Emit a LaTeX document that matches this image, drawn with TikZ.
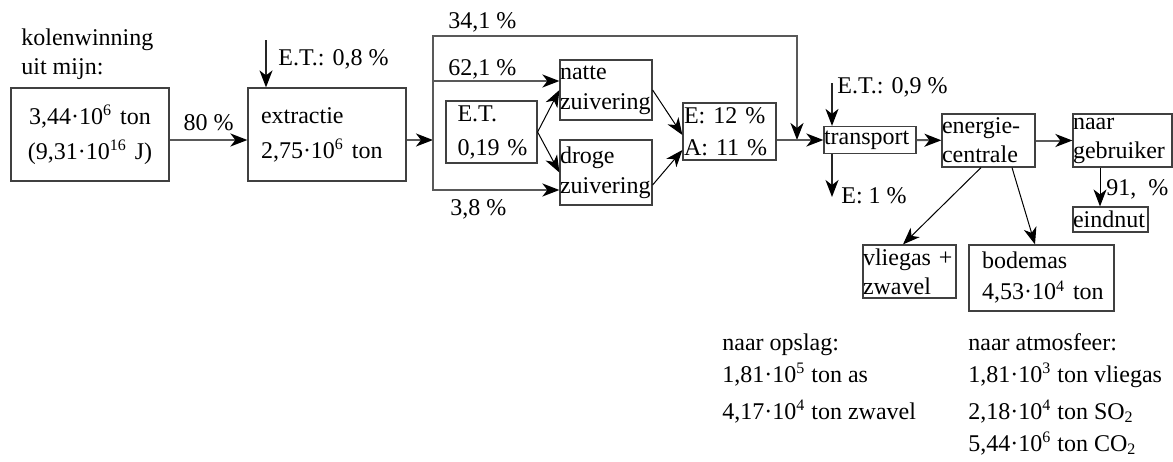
\documentclass[tikz,border=0pt]{standalone}
\usepackage{fontspec}
\setmainfont{Liberation Serif}
\usepackage{tikz}
\usetikzlibrary{positioning, calc, arrows.meta}
\tikzstyle{blok} = [rectangle, draw=black!75, line width=0.6pt, inner sep=0pt, align=left, font=\fontsize{12}{15}\selectfont]
\tikzstyle{tekst} = [inner sep=0pt, align=left, font=\fontsize{12}{15}\selectfont]
\tikzstyle{pijl} = [draw=black!65, line width=1pt, -{Stealth[length=8.5pt,width=6.5pt,inset=2.5pt,color=black]}]
\tikzstyle{zijpijl} = [draw=black!85, line width=0.8pt, -{Stealth[length=8.5pt,width=6.5pt,inset=2.5pt,color=black]}]
\tikzstyle{dun} = [draw=black, line width=0.5pt, -{Stealth[length=8.5pt,width=6.5pt,inset=2.5pt]}]

\begin{document}
\begin{tikzpicture}[x=0.5pt,y=-0.5pt]
		\useasboundingbox (0,0) rectangle (1173,461);
		\node (kop) [tekst, anchor=north west, font=\fontsize{12}{14.5}\selectfont] at (21,28) {kolenwinning\\uit mijn:};
		\node (mijn) [blok, text width=79pt, minimum height=46.5pt, align=center, font=\fontsize{12}{17.5}\selectfont] at (90,134.5) {3,44·10\textsuperscript{6}~ton\\(9,31·10\textsuperscript{16}~J)};
		\node (extr) [blok, text width=66pt, inner xsep=6.5pt, minimum height=46.5pt, font=\fontsize{12}{17.5}\selectfont] at (327,134.5) {extractie\\2,75·10\textsuperscript{6}~ton};
		\node (et) [blok, text width=34pt, inner xsep=5.75pt, minimum height=31pt, font=\fontsize{12}{17}\selectfont] at (491.5,132) {E.T.\\0,19~\%};
		\node (natte) [blok, text width=46pt, minimum height=30pt] at (606,90) {natte\\zuivering};
		\node (droge) [blok, text width=46pt, minimum height=32.5pt] at (606,172.5) {droge\\zuivering};
		\node (ea) [blok, text width=45.5pt, inner xsep=0.5pt, minimum height=28.5pt, font=\fontsize{12}{16}\selectfont] at (729.5,131.5) {E:~12~\%\\A:~11~\%};
		\node (transport) [blok, text width=46pt, minimum height=13.5pt] at (870,140) {transport};
		\node (energie) [blok, text width=46.5pt, minimum height=26.5pt, font=\fontsize{12}{14.5}\selectfont] at (988.5,140.5) {energie-\\centrale};
		\node (gebruiker) [blok, text width=49.5pt, minimum height=26.5pt, font=\fontsize{12}{14.5}\selectfont] at (1122.5,140.5) {naar\\gebruiker};
		\node (eindnut) [blok, text width=37.5pt, minimum height=12.5pt] at (1110.5,219.5) {eindnut};
		\node (vliegas) [blok, text width=46.5pt, minimum height=26.5pt, font=\fontsize{12}{14.5}\selectfont] at (909.5,271.5) {vliegas~+\\zwavel};
		\node (bodemas) [blok, text width=59.5pt, inner xsep=6.5pt, minimum height=33pt, font=\fontsize{12}{15.5}\selectfont] at (1041.5,278) {bodemas\\4,53·10\textsuperscript{4}~ton};
		
		\coordinate (split) at (433,140);
		\coordinate (join) at (797,140);
		\coordinate (hoog) at (797,36);
		\coordinate (et1) at (266,40);
		\coordinate (et2) at (832,83);
		\coordinate (e1) at (832,197);
		
		\draw [pijl](mijn.east |- split) -- node[tekst, above=4pt] {80 \%} (extr.west |- split);
		\draw [zijpijl](et1) -- (et1 |- extr.north);
		\node (et1tekst) [tekst, anchor=base west] at (278,65) {E.T.: 0,8 \%};
		\draw [pijl](extr.east |- split) -- (split);
		\draw [pijl](split) |- (hoog) -- (join);
		\draw [pijl](split) |- ([yshift=4.5pt]natte.west);
		\draw [pijl](split) |- ([yshift=-8.75pt]droge.west);
		\node (l341) [tekst, anchor=base west] at (448,28) {34,1 \%};
		\node (l621) [tekst, anchor=base west] at (448,75) {62,1 \%};
		\node (l38) [tekst, anchor=base west] at (450,215) {3,8 \%};
		\draw [dun](et.east) -- (natte.west);
		\draw [dun](et.east) -- (droge.west);
		\draw [dun](natte.east) -- ([yshift=-1.75pt]ea.west);
		\draw [dun]([yshift=-6.25pt]droge.east) -- ([yshift=-9.25pt]ea.west);
		\draw [pijl](ea.east |- join) -- (transport.west);
		\draw [zijpijl](et2) -- (et2 |- transport.north);
		\node (et2tekst) [tekst, anchor=base west] at (837,93) {E.T.: 0,9 \%};
		\draw [zijpijl](e1 |- transport.south) -- (e1);
		\node (e1tekst) [tekst, anchor=base west] at (841,203) {E: 1 \%};
		\draw [pijl](transport) -- (energie);
		\draw [pijl](energie) -- (gebruiker);
		\draw [dun]([xshift=-11.25pt]gebruiker.south) -- ([xshift=-5.25pt]eindnut.north);
		\node (nut) [tekst, anchor=base west] at (1106,195) {91,~~\%};
		\draw [dun]([xshift=-3.75pt]energie.south) -- ([xshift=-3.25pt]vliegas.north);
		\draw [dun]([xshift=11.75pt]energie.south) -- ([xshift=-3.25pt]bodemas.north);
		
		\node (opslag) [tekst, anchor=north west, font=\fontsize{12}{16}\selectfont] at (722,333) {naar opslag:\\1,81·10\textsuperscript{5} ton as\\[2.5pt]4,17·10\textsuperscript{4} ton zwavel};
		\node (atmosfeer) [tekst, anchor=north west, font=\fontsize{12}{16}\selectfont] at (968,333) {naar atmosfeer:\\1,81·10\textsuperscript{3} ton vliegas\\[2.5pt]2,18·10\textsuperscript{4} ton SO\textsubscript{2}\\5,44·10\textsuperscript{6} ton CO\textsubscript{2}};
	\end{tikzpicture}
\end{document}
